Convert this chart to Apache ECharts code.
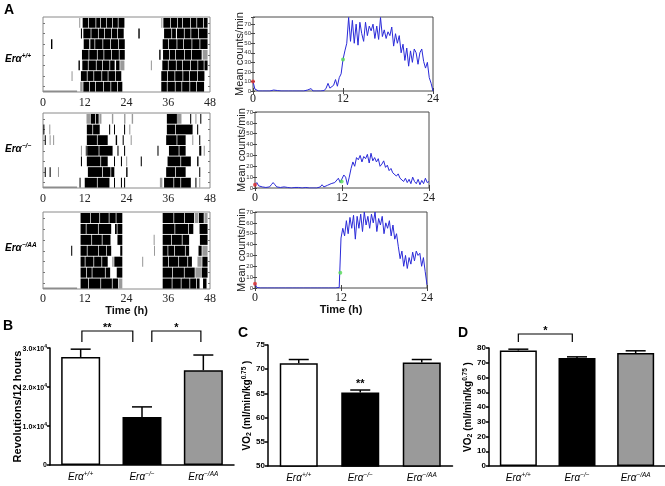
<!DOCTYPE html>
<html><head><meta charset="utf-8">
<script src="https://cdn.jsdelivr.net/npm/echarts@6/dist/echarts.min.js"></script>
<style>html,body{margin:0;padding:0;background:#fff}#c{width:665px;height:486px}</style>
</head><body><div id="c"></div>
<script>
// ---------- DATA ----------
const actoTicks = [0, 12, 24, 36, 48];
const lineTicks = [0, 12, 24];
const actoRows = [1, 2, 3, 4, 5, 6, 7];
const timeStep = 0.25; // hours between line samples
// actogram activity segments: [day row, start h, end h, shade(0 black,1 grey,2 baseline)]
const actoWT = [
[0.5,0,9.8,2],
[7,10.4,10.7,1],[7,11.4,13.0,0],[7,13.2,15.1,0],[7,15.3,16.4,0],[7,16.6,18.2,0],[7,18.4,19.9,0],[7,20.1,21.5,0],[7,21.7,23.4,0],[7,34.0,34.3,1],[7,34.6,36.5,0],[7,36.7,38.6,0],[7,38.8,40.0,0],[7,40.2,42.3,0],[7,42.5,44.1,0],[7,44.3,46.0,0],[7,46.2,47.3,0],
[6,10.9,11.2,0],[6,11.6,13.7,0],[6,13.9,15.8,0],[6,16.0,17.6,0],[6,17.8,19.6,0],[6,19.8,21.3,0],[6,21.5,23.2,0],[6,27.4,27.8,0],[6,34.8,36.9,0],[6,37.1,38.2,0],[6,38.5,40.5,0],[6,40.7,42.4,0],[6,42.6,44.6,0],[6,44.8,47.3,0],
[5,2.3,2.7,0],[5,11.7,13.3,0],[5,13.6,14.8,0],[5,15.0,17.1,0],[5,17.3,19.3,0],[5,19.5,21.6,0],[5,21.8,23.5,0],[5,34.4,36.0,0],[5,36.2,38.4,0],[5,38.6,40.3,0],[5,40.5,42.7,0],[5,42.9,45.0,0],[5,45.2,47.3,0],
[4,11.2,13.1,0],[4,13.3,15.5,0],[4,15.7,17.4,0],[4,17.6,19.6,0],[4,19.8,21.8,0],[4,22.0,23.5,0],[4,33.4,33.8,0],[4,34.5,36.3,0],[4,36.5,38.0,0],[4,38.2,40.6,0],[4,40.8,42.6,0],[4,42.8,45.6,0],[4,45.9,47.3,1],
[3,10.2,10.6,0],[3,11.3,12.9,0],[3,13.1,15.2,0],[3,15.4,17.0,0],[3,17.2,19.1,0],[3,19.3,20.6,0],[3,21.0,22.0,0],[3,22.2,23.4,1],[3,31.0,31.3,1],[3,34.3,35.9,0],[3,36.1,38.2,0],[3,38.4,40.0,0],[3,40.2,42.3,0],[3,42.5,44.4,0],[3,44.6,46.2,0],[3,46.4,47.3,0],
[2,8.2,8.5,1],[2,10.9,12.6,0],[2,12.8,14.5,0],[2,14.7,16.8,0],[2,17.0,18.6,0],[2,18.8,20.7,0],[2,20.9,22.5,0],[2,34.0,35.7,0],[2,35.9,37.8,0],[2,38.0,40.1,0],[2,40.3,42.0,0],[2,42.2,44.3,0],[2,44.5,46.4,0],
[1,10.7,11.4,1],[1,11.6,13.3,0],[1,13.5,15.0,0],[1,15.2,17.3,0],[1,17.5,19.4,0],[1,19.6,21.3,0],[1,21.5,22.8,0],[1,34.0,35.6,0],[1,35.8,37.9,0],[1,38.1,39.8,0],[1,40.0,42.1,0],[1,42.3,44.0,0],[1,44.2,46.3,0]
];
const actoKO = [
[0.5,0,9.8,2],
[7,12.5,13.5,1],[7,13.7,15.0,0],[7,15.2,16.0,0],[7,16.2,16.8,1],[7,19.8,20.2,1],[7,23.3,23.7,1],[7,25.5,25.9,1],[7,35.6,38.5,0],[7,38.5,39.8,1],[7,42.3,42.6,0],[7,43.8,44.1,1],[7,45.2,45.5,0],
[6,0.1,0.4,0],[6,1.8,2.1,1],[6,12.6,14.2,0],[6,14.4,16.3,0],[6,19.0,19.3,0],[6,20.4,20.7,0],[6,23.3,23.6,0],[6,24.8,25.1,1],[6,35.6,38.0,0],[6,38.2,43.0,0],[6,44.3,44.6,0],
[5,0.5,0.8,0],[5,1.9,2.2,1],[5,2.9,3.2,1],[5,12.6,15.5,0],[5,15.7,18.6,0],[5,20.9,21.3,0],[5,22.9,23.2,0],[5,25.2,25.5,1],[5,35.4,38.4,0],[5,38.6,41.0,0],[5,42.9,43.2,1],[5,44.9,45.2,0],
[4,10.9,11.2,1],[4,12.3,12.5,0],[4,12.7,16.0,0],[4,16.2,20.0,0],[4,21.4,21.7,0],[4,23.3,23.6,0],[4,32.9,33.2,0],[4,36.2,39.0,0],[4,39.2,41.0,0],[4,44.9,45.5,0],[4,46.2,46.5,1],
[3,10.9,11.2,0],[3,12.6,16.5,0],[3,16.7,18.6,0],[3,20.4,20.7,0],[3,22.4,22.7,0],[3,23.9,24.2,1],[3,28.1,28.4,0],[3,35.8,39.5,0],[3,39.7,42.5,0],[3,44.3,44.7,0],
[2,0.5,0.8,0],[2,1.9,2.2,0],[2,4.3,4.6,1],[2,12.9,17.0,0],[2,17.2,19.4,0],[2,19.6,20.5,0],[2,23.9,24.3,0],[2,35.4,38.0,0],[2,38.2,41.0,0],[2,44.9,45.2,0],
[1,10.5,10.8,0],[1,12.0,15.5,0],[1,15.7,19.1,0],[1,20.4,20.7,0],[1,22.4,22.7,0],[1,23.3,23.6,0],[1,33.6,34.3,1],[1,34.8,37.5,0],[1,37.7,39.5,0],[1,39.7,42.5,0],[1,43.8,44.1,0],[1,44.9,45.2,1]
];
const actoAA = [
[0.5,0,9.8,2],
[7,10.8,13.6,0],[7,13.8,16.2,0],[7,16.4,18.9,0],[7,19.1,20.9,0],[7,21.1,22.8,0],[7,34.4,37.5,0],[7,37.7,40.6,0],[7,40.8,43.4,0],[7,43.6,44.6,1],[7,44.8,46.2,0],[7,46.4,47.3,1],
[6,10.8,12.3,0],[6,12.5,15.8,0],[6,16.0,19.6,0],[6,20.7,21.2,0],[6,21.4,22.8,0],[6,34.4,37.8,0],[6,38.0,41.7,0],[6,41.9,43.2,0],[6,45.0,47.3,0],
[5,10.8,13.9,0],[5,14.1,16.9,0],[5,17.1,19.4,0],[5,21.4,22.8,0],[5,31.8,32.1,1],[5,34.4,36.8,0],[5,37.0,39.9,0],[5,40.1,42.0,0],[5,45.1,47.3,0],
[4,8.1,8.4,0],[4,10.8,12.6,0],[4,12.8,15.9,0],[4,16.1,18.1,0],[4,18.3,19.6,0],[4,22.2,22.8,0],[4,31.9,32.2,1],[4,34.4,35.8,0],[4,36.0,37.7,0],[4,37.9,40.8,0],[4,41.0,42.0,0],[4,44.7,45.6,0],[4,45.8,47.3,1],
[3,10.8,12.0,0],[3,12.2,14.5,0],[3,14.7,16.8,0],[3,17.0,18.6,0],[3,19.9,20.3,1],[3,20.5,22.8,0],[3,28.5,28.8,1],[3,34.4,36.0,0],[3,36.2,38.9,0],[3,39.1,41.5,0],[3,41.7,42.8,0],[3,44.4,45.6,1],[3,45.8,47.3,0],
[2,10.8,12.4,0],[2,12.6,14.0,0],[2,14.2,17.8,0],[2,18.0,19.3,0],[2,21.2,22.8,0],[2,34.4,37.1,0],[2,37.3,40.5,0],[2,40.7,43.6,0],[2,43.8,45.4,1],[2,45.6,47.3,0],
[1,10.8,13.0,0],[1,13.2,16.5,0],[1,16.7,19.8,0],[1,20.0,21.6,0],[1,21.8,22.8,1],[1,34.4,37.0,0],[1,37.2,39.6,0],[1,39.8,42.1,0],[1,42.3,44.0,0],[1,44.2,45.0,0],[1,46.0,47.0,0]
];
// mean counts/min, one value every 0.25 h from 0 to 24 h
const countsWT = [10,2,0.5,0,0,0,0,0,0,0, 0,1,1.5,0.5,0,0,0,0,0.5,0, 0,0,0.5,0,0,0,0.5,0,0,1, 0,2.5,0,0,0,0,0,0,0.5,3,
 8,3,1,6,12,5,14,18,33,42, 50,77,52,74,50,70,48,72,60,52, 72,58,68,63,70,55,68,54,77,57, 64,55,62,58,67,47,60,50,58,40,
 49,32,45,26,42,30,44,40,28,40, 44,31,24,30,14,8,0];
const countsKO = [3,5,2,1.5,1,1,0.5,1,1,3, 5,3,1,0.5,0.5,0,1,0,0.5,1, 0,1,0.5,1.5,0.5,1,0,0,0.5,0, 0,0,0,0.5,0,0,1,3,1,2,
 2.5,3,4,3,5,6,9,5,6,12, 10,3,10,18,24,20,28,26,30,24, 29,27,31,23,32,25,28,24,27,20, 22,25,19,21,16,18,14,15,11,13,
 9,10,6,9,5,8,4,10,6,4, 8,3,7,4,9,5,6];
const countsAA = [4,0.5,0,0,0,0,0,0,0,0, 0,0,0,0,1,0,0,0,0,0, 0,0,0,0,0.5,0,0,0,0.5,0, 0,0,0.5,0,0,0,0.5,0,0,0,
 0.5,0,0,0,0,0,0.5,0.5,46,55, 48,62,50,65,55,67,45,66,55,68, 52,70,58,66,55,68,60,70,52,64, 58,66,50,60,55,62,48,58,45,50,
 38,27,34,20,30,18,28,22,33,25, 34,30,32,20,28,15,3];
// red (start) and green (lights-off) markers [h, counts]
const markStartWT = [0, 10], markOffWT = [12, 33];
const markStartKO = [0, 3], markOffKO = [11.95, 6];
const markStartAA = [0, 4], markOffAA = [11.9, 14];

const genotypes = ['+/+', '\u2212/\u2212', '\u2212/AA'];
const revMean = [27700, 12300, 24300];
const revSem = [2000, 2600, 3900];
const vo2cMean = [71.25, 65.2, 71.4];
const vo2cSem = [0.75, 0.5, 0.6];
const vo2dMean = [78.3, 73.2, 76.6];
const vo2dSem = [0.9, 0.8, 1.5];
// significance: [anchor, yTop, yLeg, from category, to category]
const sigB = [[0, 34360, 31540, 0.02, 0.85], [0, 34360, 31540, 1.16, 1.96]];
const sigBLabels = ['**', '*'];
const sigC = [[0, 66.9, 66.9, 1, 1]];
const sigCLabels = ['**'];
const sigD = [[0, 89.5, 84.1, 0, 0.92]];
const sigDLabels = ['*'];
const barColors = ['#ffffff', '#000000', '#9a9a9a'];

// ---------- CHART ----------
const sans = 'Liberation Sans', serif = 'Liberation Serif';
const chart = echarts.init(document.getElementById('c'));
const grids = [], xAxes = [], yAxes = [], series = [];
function addGrid(g) { grids.push(g); return grids.length - 1; }

function actoRender(params, api) {
  const r = api.value(0), s = api.value(1), e = api.value(2), sh = api.value(3);
  if (sh === 2) {
    const a = api.coord([s, r]), b = api.coord([e, r]);
    return {type: 'rect', shape: {x: a[0], y: a[1] - 1.6, width: b[0] - a[0], height: 1.6}, style: {fill: '#8c8c8c'}};
  }
  const a = api.coord([s, r + 0.46]), b = api.coord([e, r - 0.46]);
  return {type: 'rect', shape: {x: a[0], y: a[1], width: Math.max(b[0] - a[0], 0.9), height: b[1] - a[1]},
    style: {fill: sh === 1 ? '#9a9a9a' : '#000'}};
}

function actoPanel(box, data, timeName) {
  const gi = addGrid({left: box[0], top: box[1], width: box[2], height: box[3], show: true, borderColor: '#8a8a8a', borderWidth: 1});
  const xi = xAxes.push({gridIndex: gi, type: 'value', min: actoTicks[0], max: actoTicks[actoTicks.length - 1], interval: 12,
    axisLine: {show: false}, axisTick: {show: false}, splitLine: {show: false},
    axisLabel: {fontFamily: serif, fontSize: 12, color: '#222', margin: box[4]},
    name: timeName || '', nameLocation: 'middle', nameGap: 13,
    nameTextStyle: {fontFamily: sans, fontWeight: 'bold', fontSize: 11, color: '#111'}}) - 1;
  const yBase = {gridIndex: gi, type: 'value', min: 0.5, max: 7.55, axisLine: {show: false},
    axisTick: {show: true, inside: true, length: 2, customValues: actoRows, lineStyle: {color: '#777'}},
    axisLabel: {show: false}, splitLine: {show: false}};
  const yi = yAxes.push(Object.assign({}, yBase, {position: 'left'})) - 1;
  yAxes.push(Object.assign({}, yBase, {position: 'right'}));
  series.push({type: 'custom', xAxisIndex: xi, yAxisIndex: yi, data: data, renderItem: actoRender, silent: true});
}

function linePanel(box, ymax, values, mStart, mOff, timeName) {
  const gi = addGrid({left: box[0], top: box[1], width: box[2], height: box[3], show: true, borderColor: '#4a4a4a', borderWidth: 1});
  const xb = {gridIndex: gi, type: 'value', min: lineTicks[0], max: lineTicks[lineTicks.length - 1], interval: 12,
    axisLine: {show: false}, axisTick: {show: true, inside: true, length: 3, lineStyle: {color: '#444'}}, splitLine: {show: false}};
  const xi = xAxes.push(Object.assign({}, xb, {position: 'bottom',
    axisLabel: {fontFamily: serif, fontSize: 12, color: '#222', margin: box[4]},
    name: timeName || '', nameLocation: 'middle', nameGap: 14,
    nameTextStyle: {fontFamily: sans, fontWeight: 'bold', fontSize: 11, color: '#111'}})) - 1;
  xAxes.push(Object.assign({}, xb, {position: 'top', axisLabel: {show: false}}));
  const yb = {gridIndex: gi, type: 'value', min: 0, max: ymax, interval: 10, axisLine: {show: false},
    axisTick: {show: true, inside: true, length: 2, lineStyle: {color: '#444'}}, splitLine: {show: false}};
  const yi = yAxes.push(Object.assign({}, yb, {position: 'left',
    axisLabel: {fontFamily: sans, fontSize: 6, color: '#333', margin: 2, formatter: v => (v % 10 === 0 ? String(v) : '')},
    name: 'Mean counts/min', nameLocation: 'middle', nameGap: 8, nameMoveOverlap: false,
    nameTextStyle: {fontFamily: sans, fontSize: 11, color: '#222'}})) - 1;
  yAxes.push(Object.assign({}, yb, {position: 'right', axisLabel: {show: false}}));
  series.push({type: 'line', xAxisIndex: xi, yAxisIndex: yi, data: values.map((v, i) => [i * timeStep, v]),
    showSymbol: false, symbol: 'none', lineStyle: {color: '#2a2ad8', width: 1}, silent: true});
  series.push({type: 'scatter', xAxisIndex: xi, yAxisIndex: yi, data: [mStart], symbolSize: 4, itemStyle: {color: '#e03030'}, silent: true, z: 5});
  series.push({type: 'scatter', xAxisIndex: xi, yAxisIndex: yi, data: [mOff], symbolSize: 4, itemStyle: {color: '#55dd55'}, silent: true, z: 5});
}

const genoRich = {
  i: {fontFamily: sans, fontStyle: 'italic', fontSize: 10, color: '#000', verticalAlign: 'bottom', lineHeight: 13},
  s: {fontFamily: sans, fontStyle: 'italic', fontSize: 6.5, color: '#000', verticalAlign: 'top', lineHeight: 9, padding: [2, 0, 0, 0]}
};

function barPanel(box, yCfg, means, sems, sig, sigLabels, barW) {
  const gi = addGrid({left: box[0], top: box[1], width: box[2], height: box[3]});
  const xi = xAxes.push({gridIndex: gi, type: 'category', data: genotypes,
    axisLine: {show: true, lineStyle: {color: '#000', width: 1.5}}, axisTick: {show: false},
    axisLabel: {interval: 0, margin: 4, formatter: v => '{i|Er\u03b1}{s|' + v + '}', rich: genoRich}}) - 1;
  const yi = yAxes.push(Object.assign({gridIndex: gi, type: 'value',
    axisLine: {show: true, lineStyle: {color: '#000', width: 1.5}},
    axisTick: {show: true, length: 3, lineStyle: {color: '#000', width: 1.5}},
    splitLine: {show: false}, nameLocation: 'middle'}, yCfg)) - 1;
  series.push({type: 'bar', xAxisIndex: xi, yAxisIndex: yi, barWidth: barW,
    data: means.map((m, i) => ({value: m, itemStyle: {color: barColors[i]}})),
    itemStyle: {borderColor: '#000', borderWidth: 1.5}, silent: true});
  series.push({type: 'custom', xAxisIndex: xi, yAxisIndex: yi, z: 4, silent: true,
    data: means.map((m, i) => [i, m, sems[i]]),
    renderItem: (p, api) => {
      const i = api.value(0), m = api.value(1), s = api.value(2);
      const a = api.coord([i, m]), b = api.coord([i, m + s]);
      return {type: 'group', children: [
        {type: 'line', shape: {x1: a[0], y1: a[1], x2: b[0], y2: b[1]}, style: {stroke: '#000', lineWidth: 1.5}},
        {type: 'line', shape: {x1: b[0] - 10, y1: b[1], x2: b[0] + 10, y2: b[1]}, style: {stroke: '#000', lineWidth: 1.5}}]};
    }});
  series.push({type: 'custom', xAxisIndex: xi, yAxisIndex: yi, z: 4, silent: true, clip: false,
    data: sig,
    renderItem: (p, api) => {
      const yt = api.value(1), yl = api.value(2), fa = api.value(3), fb = api.value(4);
      const c0 = api.coord([0, yt]), c1 = api.coord([1, yt]);
      const xa = c0[0] + fa * (c1[0] - c0[0]), xb2 = c0[0] + fb * (c1[0] - c0[0]);
      const ytp = c0[1], ylp = api.coord([0, yl])[1];
      const lab = sigLabels[p.dataIndex];
      const children = [];
      let ty = ytp;
      if (fa !== fb) {
        children.push({type: 'polyline', shape: {points: [[xa, ylp], [xa, ytp], [xb2, ytp], [xb2, ylp]]},
          style: {stroke: '#000', lineWidth: 1.2, fill: null}});
        ty = ytp - 3;
      }
      children.push({type: 'text', style: {text: lab, x: (xa + xb2) / 2, y: ty, textAlign: 'center', align: 'center',
        textVerticalAlign: 'middle', verticalAlign: 'middle', fontFamily: sans, fontWeight: 'bold', fontSize: 11, fill: '#000'}});
      return {type: 'group', children: children};
    }});
}

// Panel A
actoPanel([43, 17, 167, 75, 5], actoWT);
actoPanel([43, 113, 167, 75, 5], actoKO);
actoPanel([43, 212, 167, 77, 4], actoAA, 'Time (h)');
linePanel([253, 17, 180, 74, 2], 77.5, countsWT, markStartWT, markOffWT);
linePanel([255, 112, 174, 76, 4], 70, countsKO, markStartKO, markOffKO);
linePanel([255, 212, 172, 76, 4], 70, countsAA, markStartAA, markOffAA, 'Time (h)');

const boldTick = {fontFamily: sans, fontWeight: 'bold', fontSize: 8, color: '#000', margin: 3};
const vo2Name = '{t|VO}{d|2}{t| (ml/min/kg}{u|0.75}{t| )}';
const vo2Rich = {
  t: {fontFamily: sans, fontWeight: 'bold', fontSize: 10, color: '#000', verticalAlign: 'bottom', lineHeight: 14},
  d: {fontFamily: sans, fontWeight: 'bold', fontSize: 7, color: '#000', verticalAlign: 'bottom', lineHeight: 9},
  u: {fontFamily: sans, fontWeight: 'bold', fontSize: 6.5, color: '#000', verticalAlign: 'top', lineHeight: 8, padding: [3, 0, 0, 0]}
};
barPanel([50, 348, 184, 117], {min: 0, max: 30000, interval: 10000,
  axisLabel: Object.assign({}, boldTick, {fontSize: 7,
    formatter: v => (v === 0 ? '0' : '{a|' + (v / 10000).toFixed(1) + '\u00d710}{s|4}'),
    rich: {a: {fontFamily: sans, fontWeight: 'bold', fontSize: 7, color: '#000', verticalAlign: 'bottom', lineHeight: 10},
           s: {fontFamily: sans, fontWeight: 'bold', fontSize: 5, color: '#000', verticalAlign: 'top', lineHeight: 6, padding: [1, 0, 0, 0]}}}),
  name: 'Revolutions/12 hours', nameGap: 27, nameMoveOverlap: false,
  nameTextStyle: {fontFamily: sans, fontWeight: 'bold', fontSize: 11, color: '#000'}},
  revMean, revSem, sigB, sigBLabels, 39);
barPanel([268, 345, 184.5, 121], {min: 50, max: 75, interval: 5, axisLabel: boldTick,
  name: vo2Name, nameGap: 15, nameTextStyle: {rich: vo2Rich}},
  vo2cMean, vo2cSem, sigC, sigCLabels, 38);
barPanel([489, 348, 180, 118], {min: 0, max: 80, interval: 10, axisLabel: boldTick,
  name: vo2Name, nameGap: 15, nameTextStyle: {rich: vo2Rich}},
  vo2dMean, vo2dSem, sigD, sigDLabels, 37);

const letterStyle = {fontFamily: sans, fontWeight: 'bold', fontSize: 14, fill: '#000'};
const rowRich = {
  i: {fontFamily: sans, fontStyle: 'italic', fontWeight: 'bold', fontSize: 10, fill: '#000', verticalAlign: 'bottom', lineHeight: 13},
  s: {fontFamily: sans, fontStyle: 'italic', fontWeight: 'bold', fontSize: 6.5, fill: '#000', verticalAlign: 'top', lineHeight: 9, padding: [2, 0, 0, 0]}
};
const graphics = [
  {type: 'text', left: 4, top: 3, style: Object.assign({text: 'A'}, letterStyle)},
  {type: 'text', left: 3, top: 319, style: Object.assign({text: 'B'}, letterStyle)},
  {type: 'text', left: 238, top: 326, style: Object.assign({text: 'C'}, letterStyle)},
  {type: 'text', left: 458, top: 326, style: Object.assign({text: 'D'}, letterStyle)}
];
[[genotypes[0], 51], [genotypes[1], 141], [genotypes[2], 240]].forEach(g => {
  graphics.push({type: 'text', left: 5, top: g[1], style: {text: '{i|Er\u03b1}{s|' + g[0] + '}', rich: rowRich}});
});

chart.setOption({
  animation: false,
  backgroundColor: '#fff',
  grid: grids, xAxis: xAxes, yAxis: yAxes, series: series, graphic: graphics
});
</script></body></html>
